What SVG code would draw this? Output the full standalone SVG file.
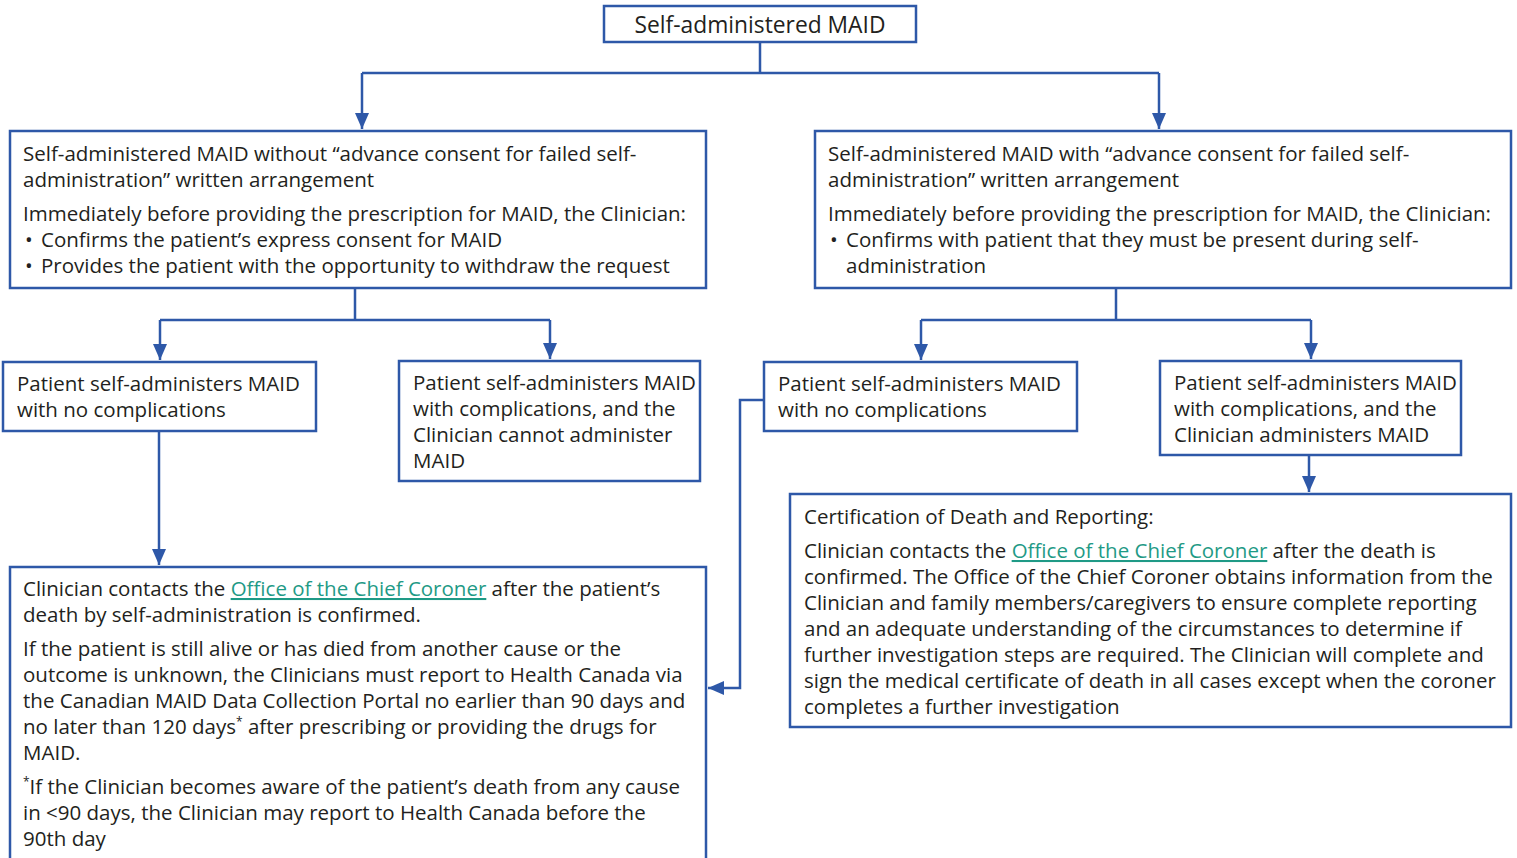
<svg xmlns="http://www.w3.org/2000/svg" width="1517" height="858" viewBox="0 0 1517 858">
<defs>
<marker id="arr" viewBox="0 0 16 14" refX="16" refY="7" markerWidth="6.4" markerHeight="5.6" orient="auto" markerUnits="strokeWidth">
<path d="M0,0 L16,7 L0,14 z" fill="#2e58a8"/>
</marker>
<style>
.box{fill:#fff;stroke:#2e58a8;stroke-width:2.5}
.con{fill:none;stroke:#2e58a8;stroke-width:2.5}
text{font-family:"Open Sans","Noto Sans","Liberation Sans",sans-serif;font-size:20.5px;fill:#231f20}
.lnk{fill:#1f9a86;text-decoration:underline}
.sup{font-size:12px}
</style>
</defs>
<rect width="1517" height="858" fill="#fff"/>
<g id="connectors">
<path class="con" d="M760,42 V73 M362,73 H1159"/>
<path class="con" d="M362,73 V129" marker-end="url(#arr)"/>
<path class="con" d="M1159,73 V129" marker-end="url(#arr)"/>
<path class="con" d="M355,288 V320 M160,320 H550"/>
<path class="con" d="M160,320 V360" marker-end="url(#arr)"/>
<path class="con" d="M550,320 V359" marker-end="url(#arr)"/>
<path class="con" d="M1116,288 V320 M921,320 H1311"/>
<path class="con" d="M921,320 V360" marker-end="url(#arr)"/>
<path class="con" d="M1311,320 V359" marker-end="url(#arr)"/>
<path class="con" d="M159,431 V565" marker-end="url(#arr)"/>
<path class="con" d="M1309,455 V492" marker-end="url(#arr)"/>
<path class="con" d="M764,400 H740 V688 H708" marker-end="url(#arr)"/>
</g>
<g id="n-top">
<rect class="box" x="604" y="6" width="312" height="36"/>
<text x="760" y="33" text-anchor="middle" style="font-size:22.8px">Self-administered MAID</text>
</g>
<g id="n-left1">
<rect class="box" x="10" y="131" width="696" height="157"/>
<text x="23" y="161">Self-administered MAID without “advance consent for failed self-</text>
<text x="23" y="187">administration” written arrangement</text>
<text x="23" y="221">Immediately before providing the prescription for MAID, the Clinician:</text>
<text x="25" y="247">•</text><text x="41" y="247">Confirms the patient’s express consent for MAID</text>
<text x="25" y="273">•</text><text x="41" y="273">Provides the patient with the opportunity to withdraw the request</text>
</g>
<g id="n-right1">
<rect class="box" x="815" y="131" width="696" height="157"/>
<text x="828" y="161">Self-administered MAID with “advance consent for failed self-</text>
<text x="828" y="187">administration” written arrangement</text>
<text x="828" y="221">Immediately before providing the prescription for MAID, the Clinician:</text>
<text x="830" y="247">•</text><text x="846" y="247">Confirms with patient that they must be present during self-</text>
<text x="846" y="273">administration</text>
</g>
<g id="n-left2a">
<rect class="box" x="3" y="362" width="313" height="69"/>
<text x="17" y="391">Patient self-administers MAID</text>
<text x="17" y="417">with no complications</text>
</g>
<g id="n-left2b">
<rect class="box" x="399" y="361" width="301" height="120"/>
<text x="413" y="390">Patient self-administers MAID</text>
<text x="413" y="416">with complications, and the</text>
<text x="413" y="442">Clinician cannot administer</text>
<text x="413" y="468">MAID</text>
</g>
<g id="n-right2a">
<rect class="box" x="764" y="362" width="313" height="69"/>
<text x="778" y="391">Patient self-administers MAID</text>
<text x="778" y="417">with no complications</text>
</g>
<g id="n-right2b">
<rect class="box" x="1160" y="361" width="301" height="94"/>
<text x="1174" y="390">Patient self-administers MAID</text>
<text x="1174" y="416">with complications, and the</text>
<text x="1174" y="442">Clinician administers MAID</text>
</g>
<g id="n-left3">
<rect class="box" x="10" y="567" width="696" height="300"/>
<text x="23" y="596">Clinician contacts the <tspan class="lnk">Office of the Chief Coroner</tspan> after the patient’s</text>
<text x="23" y="622">death by self-administration is confirmed.</text>
<text x="23" y="656">If the patient is still alive or has died from another cause or the</text>
<text x="23" y="682">outcome is unknown, the Clinicians must report to Health Canada via</text>
<text x="23" y="708">the Canadian MAID Data Collection Portal no earlier than 90 days and</text>
<text x="23" y="734">no later than 120 days<tspan class="sup" dy="-8">*</tspan><tspan dy="8"> after prescribing or providing the drugs for</tspan></text>
<text x="23" y="760">MAID.</text>
<text x="23" y="794"><tspan class="sup" dy="-8">*</tspan><tspan dy="8">If the Clinician becomes aware of the patient’s death from any cause</tspan></text>
<text x="23" y="820">in &lt;90 days, the Clinician may report to Health Canada before the</text>
<text x="23" y="846">90th day</text>
</g>
<g id="n-right3">
<rect class="box" x="790" y="494" width="721" height="233"/>
<text x="804" y="524">Certification of Death and Reporting:</text>
<text x="804" y="558">Clinician contacts the <tspan class="lnk">Office of the Chief Coroner</tspan> after the death is</text>
<text x="804" y="584">confirmed. The Office of the Chief Coroner obtains information from the</text>
<text x="804" y="610">Clinician and family members/caregivers to ensure complete reporting</text>
<text x="804" y="636">and an adequate understanding of the circumstances to determine if</text>
<text x="804" y="662">further investigation steps are required. The Clinician will complete and</text>
<text x="804" y="688">sign the medical certificate of death in all cases except when the coroner</text>
<text x="804" y="714">completes a further investigation</text>
</g>
</svg>
